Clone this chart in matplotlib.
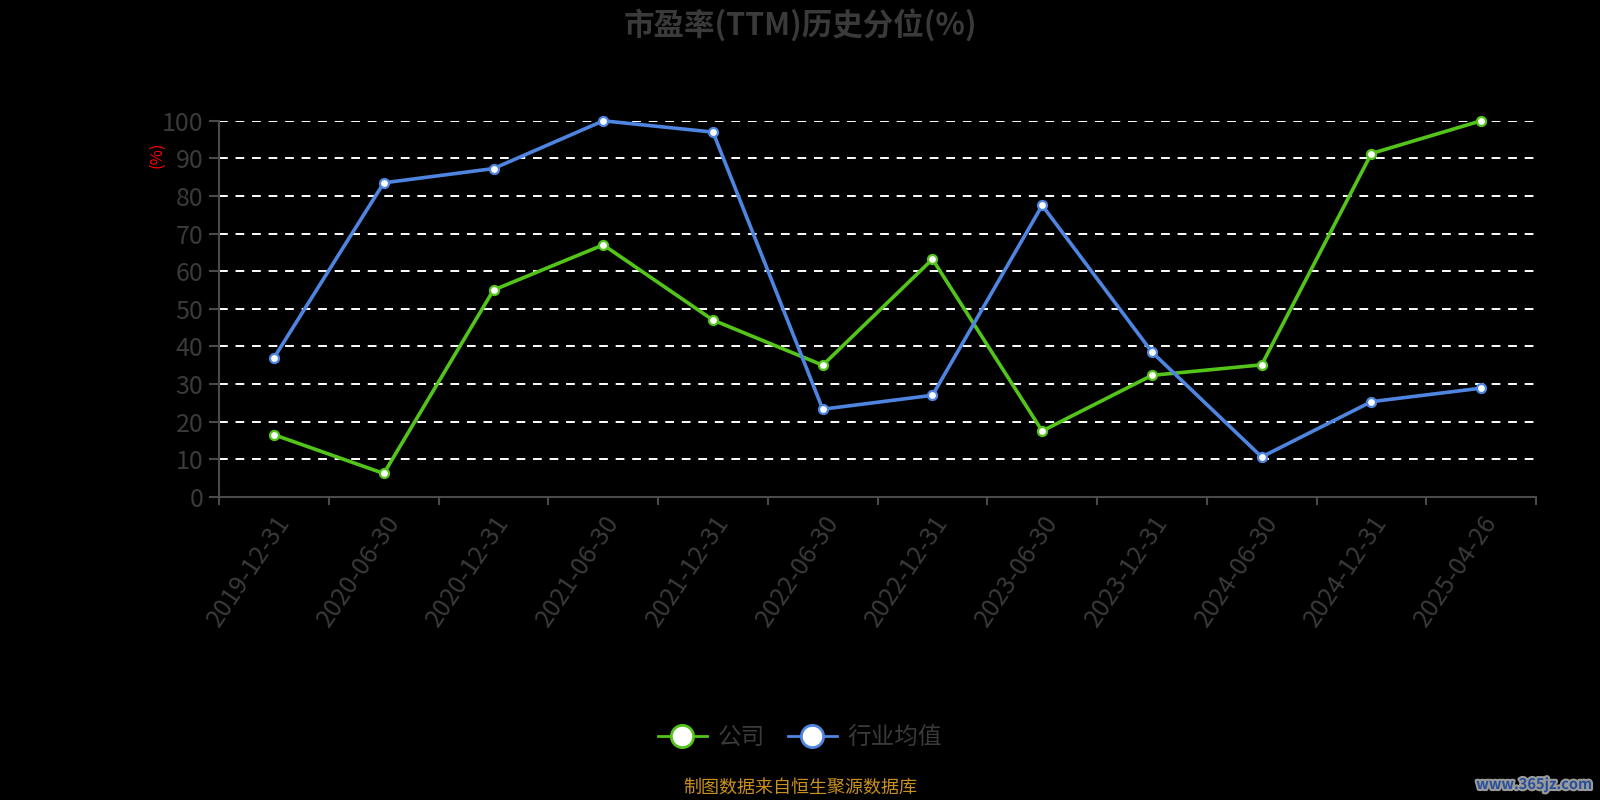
import matplotlib
matplotlib.use("Agg")
import matplotlib.pyplot as plt
import matplotlib.patheffects as pe
from matplotlib.lines import Line2D

plt.rcParams["font.family"] = ["Noto Sans CJK SC", "DejaVu Sans"]

# data
dates = ["2019-12-31", "2020-06-30", "2020-12-31", "2021-06-30", "2021-12-31",
         "2022-06-30", "2022-12-31", "2023-06-30", "2023-12-31", "2024-06-30",
         "2024-12-31", "2025-04-26"]
company = [16.5, 6.2, 55.0, 67.0, 47.0, 35.0, 63.2, 17.5, 32.3, 35.1, 91.3, 100.0]
industry = [37.0, 83.5, 87.3, 100.0, 97.0, 23.3, 27.0, 77.5, 38.5, 10.6, 25.3, 28.9]
yticks = [0, 10, 20, 30, 40, 50, 60, 70, 80, 90, 100]

GREEN = "#52c41a"
BLUE = "#4e85e0"
TEXT = "#3a3a3a"
AXIS = "#4a4a4a"

fig = plt.figure(figsize=(16, 8), dpi=100, facecolor="black")
ax = fig.add_axes([0.137, 0.379, 0.823, 0.470], facecolor="black")

x = list(range(len(dates)))
for vals, col in [(company, GREEN), (industry, BLUE)]:
    ax.plot(x, vals, color=col, lw=2.6, marker="o", ms=6.5, mfc="white",
            mec=col, mew=1.6, clip_on=False, zorder=3)

ax.set_xlim(-0.5, len(dates) - 0.5)
ax.set_ylim(0, 100)
ax.set_yticks(yticks)
ax.set_yticklabels([str(v) for v in yticks], fontsize=18, color=TEXT)
for v in yticks[1:]:
    ax.axhline(v, color="white", lw=1.4, ls=(0, (4.5, 4)), zorder=1)

# x ticks sit at category boundaries, labels at centres
ax.set_xticks([i - 0.5 for i in range(len(dates) + 1)])
ax.set_xticklabels([])
ax.set_xticks(x, minor=True)
ax.set_xticklabels(dates, minor=True, rotation=56, ha="right", va="top",
                   rotation_mode="anchor", fontsize=18, color=TEXT)
ax.tick_params(axis="x", which="major", length=6, color=AXIS, width=1.5)
ax.tick_params(axis="x", which="minor", length=0, pad=10)
ax.tick_params(axis="y", length=7.5, color=AXIS, width=1.5, pad=4)

for s in ["top", "right"]:
    ax.spines[s].set_visible(False)
for s in ["left", "bottom"]:
    ax.spines[s].set_color(AXIS)
    ax.spines[s].set_linewidth(1.5)

fig.text(0.098, 0.806, "(%)", color="red", fontsize=12, rotation=90,
         ha="center", va="center")

fig.text(0.5, 0.969, "市盈率(TTM)历史分位(%)", color=TEXT, fontsize=22,
         fontweight="bold", ha="center", va="center")

handles = [Line2D([], [], color=GREEN, lw=2, marker="o", ms=16, mfc="white",
                  mec=GREEN, mew=2),
           Line2D([], [], color=BLUE, lw=2, marker="o", ms=16, mfc="white",
                  mec=BLUE, mew=2)]
leg = fig.legend(handles, ["公司", "行业均值"], loc="center",
                 bbox_to_anchor=(0.5, 0.078), ncol=2, frameon=False,
                 fontsize=17, handlelength=2.1, columnspacing=0.95,
                 handletextpad=0.45)
for t in leg.get_texts():
    t.set_color(TEXT)

fig.text(0.5, 0.015, "制图数据来自恒生聚源数据库", color="#c8901e",
         fontsize=13, ha="center", va="center")

fig.text(0.995, 0.02, "www.365jz.com", color="#2a4f9a", fontsize=10.5,
         fontweight="bold", ha="right", va="center",
         path_effects=[pe.withStroke(linewidth=3, foreground="#9a9a9a")])

fig.savefig("out.png", dpi=100, facecolor="black")
